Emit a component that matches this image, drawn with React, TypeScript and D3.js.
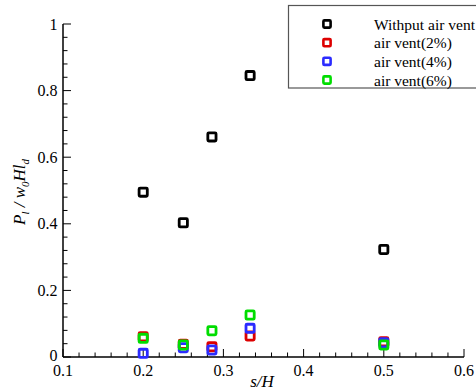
import React from "react";
import * as d3 from "d3";

const sH = [0.2, 0.25, 0.2857, 0.3333, 0.5];
const noVent = [0.495, 0.403, 0.661, 0.845, 0.323];
const vent2 = [0.061, 0.038, 0.031, 0.063, 0.046];
const vent4 = [0.011, 0.028, 0.021, 0.086, 0.043];
const vent6 = [0.056, 0.036, 0.079, 0.126, 0.036];
const seriesNames = ["Withput air vent", "air vent(2%)", "air vent(4%)", "air vent(6%)"];
const seriesColors = ["#000000", "#dd0000", "#2b2bff", "#00dd00"];
const xTicks = [0.1, 0.2, 0.3, 0.4, 0.5, 0.6];
const yTicks = [0, 0.2, 0.4, 0.6, 0.8, 1];

const W = 476, H = 392;
const FONT = "Liberation Serif, DejaVu Serif, serif";
const tStyle = { fontFamily: FONT };

export default function App() {
  const x = d3.scaleLinear().domain([0.1, 0.6]).range([63, 464]);
  const y = d3.scaleLinear().domain([0, 1]).range([357, 24]);
  const allSeries = [noVent, vent2, vent4, vent6];
  const xMinor = d3.range(0.1, 0.6001, 0.02);
  const yMinor = d3.range(0, 1.0001, 0.04);
  const isMajor = (v: number) => Math.abs(v * 10 - Math.round(v * 10)) < 1e-6;
  const isMajorY = (v: number) => Math.abs(v * 5 - Math.round(v * 5)) < 1e-6;
  const mk = 8.2;
  const legendRows = [24, 42.7, 61.3, 80];

  return (
    <svg width={W} height={H} style={{ position: "absolute", left: 0, top: 0, background: "#fff", fontFamily: FONT }}>
      <rect x={0} y={0} width={W} height={H} fill="#fff" />
      <line x1={x(0.1)} x2={x(0.6)} y1={y(0)} y2={y(0)} stroke="#000" strokeWidth={1.5} />
      <line x1={x(0.1)} x2={x(0.1)} y1={y(0)} y2={y(1)} stroke="#000" strokeWidth={1.5} />
      {xMinor.map((v, i) => {
        const major = isMajor(v);
        return (
          <line key={"xm" + i} x1={x(v)} x2={x(v)} y1={y(0)} y2={y(0) - (major ? 8 : 4.5)} stroke="#000" strokeWidth={1} />
        );
      })}
      {yMinor.map((v, i) => {
        const major = isMajorY(v);
        return (
          <line key={"ym" + i} x1={x(0.1)} x2={x(0.1) + (major ? 8 : 4.5)} y1={y(v)} y2={y(v)} stroke="#000" strokeWidth={1} />
        );
      })}
      {xTicks.map((v) => (
        <text key={"xt" + v} x={x(v)} y={376} fontSize={16} textAnchor="middle" fill="#000" style={tStyle}>
          {d3.format(".1f")(v)}
        </text>
      ))}
      {yTicks.map((v) => (
        <text key={"yt" + v} x={57.5} y={y(v) + (v === 0 ? 4 : 5.5)} fontSize={16} textAnchor="end" fill="#000" style={tStyle}>
          {v === 0 || v === 1 ? String(v) : d3.format(".1f")(v)}
        </text>
      ))}
      <text x={262} y={387} fontSize={17} fontStyle="italic" textAnchor="middle" fill="#000" style={tStyle}>s/H</text>
      <text transform={`translate(25,${192}) rotate(-90)`} fontSize={17} fontStyle="italic" textAnchor="middle" fill="#000" style={tStyle}>
        <tspan>P</tspan>
        <tspan fontSize={11} dy={4}>l</tspan>
        <tspan dy={-4}> / w</tspan>
        <tspan fontSize={11} dy={4}>0</tspan>
        <tspan dy={-4}>Hl</tspan>
        <tspan fontSize={11} dy={4}>d</tspan>
      </text>
      {allSeries.map((s, si) => (
        <g key={"s" + si}>
          {s.map((v, i) => (
            <rect
              key={i}
              x={x(sH[i]) - mk / 2}
              y={y(v) - mk / 2}
              width={mk}
              height={mk}
              rx={1}
              fill="none"
              stroke={seriesColors[si]}
              strokeWidth={2.8}
            />
          ))}
        </g>
      ))}
      <rect x={288.5} y={5.5} width={200} height={82.5} fill="#fff" stroke="#555" strokeWidth={1.2} />
      {seriesNames.map((n, i) => (
        <g key={"lg" + i}>
          <rect x={327 - 3.6} y={legendRows[i] - 3.6} width={7.2} height={7.2} rx={1} fill="none" stroke={seriesColors[i]} strokeWidth={2.6} />
          <text x={374} y={legendRows[i] + 5.5} fontSize={15.5} fill="#000" style={tStyle}>{n}</text>
        </g>
      ))}
    </svg>
  );
}
